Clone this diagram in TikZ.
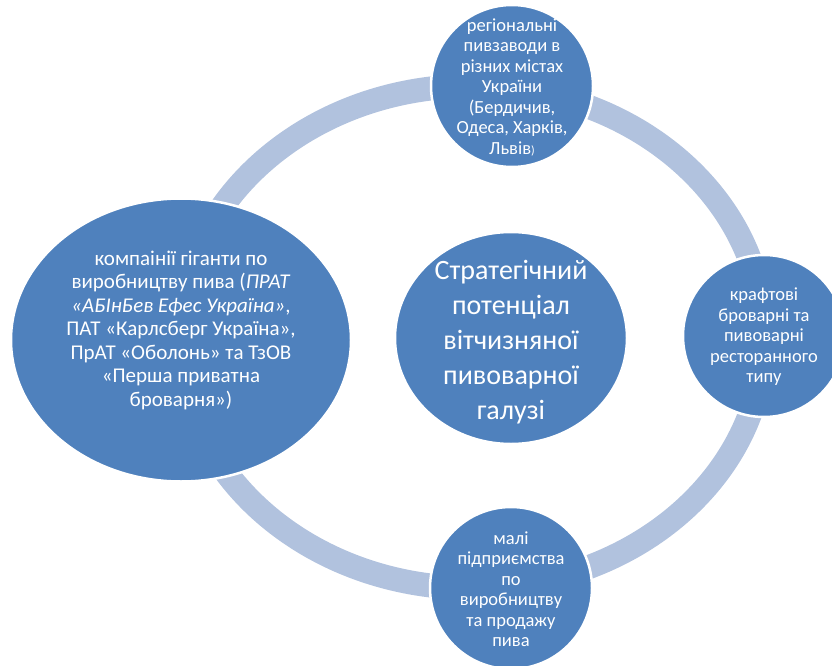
\documentclass[tikz,border=0pt]{standalone}
\usepackage{fontspec}
\setmainfont{Carlito}
\usepackage{tikz}
\usetikzlibrary{shapes.geometric}
\definecolor{potblue}{HTML}{4F81BD}
\definecolor{potring}{HTML}{B1C2DE}

\tikzset{
  bubble/.style={circle, fill=potblue, draw=white, line width=2.5pt,
    minimum size=162pt, inner sep=0pt},
  oval/.style={ellipse, fill=potblue, draw=white, line width=2.5pt, inner sep=0pt},
  txt/.style={text=white, align=center, inner sep=0pt,
    font=\fontsize{18.5}{20.5}\selectfont}
}

\begin{document}
\begin{tikzpicture}[x=1pt, y=-1pt, line join=round]
  \useasboundingbox (0,0) rectangle (832,666);
  % ring behind everything
  \draw[potring, line width=24pt] (472,337) ellipse [x radius=292pt, y radius=251pt];
  % shapes
  \node[oval, minimum width=340pt, minimum height=283pt] (giants) at (181,340) {};
  \node[oval, minimum width=232pt, minimum height=212pt] (core) at (511,338) {};
  \node[bubble] (regional) at (512,86) {};
  \node[bubble] (craft) at (764,336) {};
  \node[bubble] (small) at (511,588) {};
  % texts
  \node[txt, font=\fontsize{21}{23.5}\selectfont] (giants-t) at (181,330)
    {компаінії гіганти по\\виробництву пива (\textit{ПРАТ}\\
     \textit{«АБІнБев Ефес Україна»},\\ПАТ «Карлсберг Україна»,\\
     ПрАТ «Оболонь» та ТзОВ\\«Перша приватна\\броварня»)};
  \node[txt, font=\fontsize{28}{35}\selectfont] (core-t) at (511,342)
    {Стратегічний\\потенціал\\вітчизняної\\пивоварної\\галузі};
  \node[txt] (regional-t) at (512,87)
    {регіональні\\пивзаводи в\\різних містах\\України\\(Бердичив,\\
     Одеса, Харків,\\Львів{\fontsize{12}{12}\selectfont)}};
  \node[txt] (craft-t) at (764,337)
    {крафтові\\броварні та\\пивоварні\\ресторанного\\типу};
  \node[txt] (small-t) at (511,589)
    {малі\\підприємства\\по\\виробництву\\та продажу\\пива};
\end{tikzpicture}
\end{document}
